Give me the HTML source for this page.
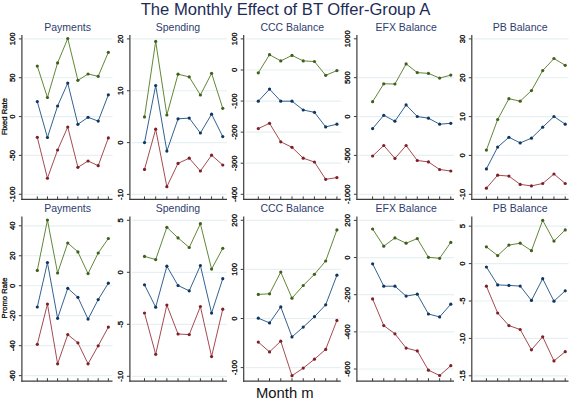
<!DOCTYPE html><html><head><meta charset="utf-8"><style>html,body{margin:0;padding:0;background:#fff;}svg{display:block;font-family:"Liberation Sans",sans-serif;}</style></head><body>
<svg width="572" height="400" viewBox="0 0 572 400">
<rect width="572" height="400" fill="#fff"/>
<text x="285.55" y="14.7" font-size="16.6" fill="#1e2b58" text-anchor="middle">The Monthly Effect of BT Offer-Group A</text>
<text transform="translate(7.2,116.6) rotate(-90)" font-size="7.65" fill="#111111" stroke="#111111" stroke-width="0.3" text-anchor="middle">Fixed Rate</text>
<text transform="translate(7.2,298.0) rotate(-90)" font-size="7.65" fill="#111111" stroke="#111111" stroke-width="0.3" text-anchor="middle">Promo Rate</text>
<text x="284.8" y="397.9" font-size="14.8" fill="#111111" text-anchor="middle">Month m</text>
<line x1="23.9" y1="38.9" x2="112.5" y2="38.9" stroke="#e6eff2" stroke-width="1.2"/>
<line x1="23.9" y1="77.74" x2="112.5" y2="77.74" stroke="#e6eff2" stroke-width="1.2"/>
<line x1="23.9" y1="116.58" x2="112.5" y2="116.58" stroke="#e6eff2" stroke-width="1.2"/>
<line x1="23.9" y1="155.42" x2="112.5" y2="155.42" stroke="#e6eff2" stroke-width="1.2"/>
<line x1="23.9" y1="194.26" x2="112.5" y2="194.26" stroke="#e6eff2" stroke-width="1.2"/>
<text x="67.6" y="30.6" font-size="10.5" fill="#2e3d6e" text-anchor="middle">Payments</text>
<line x1="21.9" y1="34.9" x2="21.9" y2="200" stroke="#3c3c3c" stroke-width="1.2"/>
<line x1="21.3" y1="199.4" x2="112.5" y2="199.4" stroke="#3c3c3c" stroke-width="1.2"/>
<line x1="18.9" y1="38.9" x2="21.9" y2="38.9" stroke="#3c3c3c" stroke-width="1"/>
<text transform="translate(14.9,38.9) rotate(-90)" font-size="7.7" fill="#000" stroke="#000" stroke-width="0.3" text-anchor="middle">100</text>
<line x1="18.9" y1="77.74" x2="21.9" y2="77.74" stroke="#3c3c3c" stroke-width="1"/>
<text transform="translate(14.9,77.74) rotate(-90)" font-size="7.7" fill="#000" stroke="#000" stroke-width="0.3" text-anchor="middle">50</text>
<line x1="18.9" y1="116.58" x2="21.9" y2="116.58" stroke="#3c3c3c" stroke-width="1"/>
<text transform="translate(14.9,116.58) rotate(-90)" font-size="7.7" fill="#000" stroke="#000" stroke-width="0.3" text-anchor="middle">0</text>
<line x1="18.9" y1="155.42" x2="21.9" y2="155.42" stroke="#3c3c3c" stroke-width="1"/>
<text transform="translate(14.9,155.42) rotate(-90)" font-size="7.7" fill="#000" stroke="#000" stroke-width="0.3" text-anchor="middle">-50</text>
<line x1="18.9" y1="194.26" x2="21.9" y2="194.26" stroke="#3c3c3c" stroke-width="1"/>
<text transform="translate(14.9,194.26) rotate(-90)" font-size="7.7" fill="#000" stroke="#000" stroke-width="0.3" text-anchor="middle">-100</text>
<line x1="37.3" y1="196.4" x2="37.3" y2="199.4" stroke="#3c3c3c" stroke-width="1"/>
<line x1="47.45" y1="196.4" x2="47.45" y2="199.4" stroke="#3c3c3c" stroke-width="1"/>
<line x1="57.6" y1="196.4" x2="57.6" y2="199.4" stroke="#3c3c3c" stroke-width="1"/>
<line x1="67.75" y1="196.4" x2="67.75" y2="199.4" stroke="#3c3c3c" stroke-width="1"/>
<line x1="77.9" y1="196.4" x2="77.9" y2="199.4" stroke="#3c3c3c" stroke-width="1"/>
<line x1="88.05" y1="196.4" x2="88.05" y2="199.4" stroke="#3c3c3c" stroke-width="1"/>
<line x1="98.2" y1="196.4" x2="98.2" y2="199.4" stroke="#3c3c3c" stroke-width="1"/>
<line x1="108.35" y1="196.4" x2="108.35" y2="199.4" stroke="#3c3c3c" stroke-width="1"/>
<polyline points="37.3,66.1 47.45,97.5 57.6,62.9 67.75,38.5 77.9,80.3 88.05,74 98.2,76.3 108.35,52.3" fill="none" stroke="#628838" stroke-width="1" stroke-linejoin="round"/>
<circle cx="37.3" cy="66.1" r="1.6" fill="#3f5f1c"/>
<circle cx="47.45" cy="97.5" r="1.6" fill="#3f5f1c"/>
<circle cx="57.6" cy="62.9" r="1.6" fill="#3f5f1c"/>
<circle cx="67.75" cy="38.5" r="1.6" fill="#3f5f1c"/>
<circle cx="77.9" cy="80.3" r="1.6" fill="#3f5f1c"/>
<circle cx="88.05" cy="74" r="1.6" fill="#3f5f1c"/>
<circle cx="98.2" cy="76.3" r="1.6" fill="#3f5f1c"/>
<circle cx="108.35" cy="52.3" r="1.6" fill="#3f5f1c"/>
<polyline points="37.3,101.6 47.45,137.5 57.6,106 67.75,83.1 77.9,124.3 88.05,117.3 98.2,121.1 108.35,94.8" fill="none" stroke="#33628f" stroke-width="1" stroke-linejoin="round"/>
<circle cx="37.3" cy="101.6" r="1.6" fill="#0f3560"/>
<circle cx="47.45" cy="137.5" r="1.6" fill="#0f3560"/>
<circle cx="57.6" cy="106" r="1.6" fill="#0f3560"/>
<circle cx="67.75" cy="83.1" r="1.6" fill="#0f3560"/>
<circle cx="77.9" cy="124.3" r="1.6" fill="#0f3560"/>
<circle cx="88.05" cy="117.3" r="1.6" fill="#0f3560"/>
<circle cx="98.2" cy="121.1" r="1.6" fill="#0f3560"/>
<circle cx="108.35" cy="94.8" r="1.6" fill="#0f3560"/>
<polyline points="37.3,137.3 47.45,178.25 57.6,150 67.75,127 77.9,167.3 88.05,161 98.2,165.7 108.35,137.9" fill="none" stroke="#a54b51" stroke-width="1" stroke-linejoin="round"/>
<circle cx="37.3" cy="137.3" r="1.6" fill="#7c1f27"/>
<circle cx="47.45" cy="178.25" r="1.6" fill="#7c1f27"/>
<circle cx="57.6" cy="150" r="1.6" fill="#7c1f27"/>
<circle cx="67.75" cy="127" r="1.6" fill="#7c1f27"/>
<circle cx="77.9" cy="167.3" r="1.6" fill="#7c1f27"/>
<circle cx="88.05" cy="161" r="1.6" fill="#7c1f27"/>
<circle cx="98.2" cy="165.7" r="1.6" fill="#7c1f27"/>
<circle cx="108.35" cy="137.9" r="1.6" fill="#7c1f27"/>
<line x1="131.9" y1="38.9" x2="227" y2="38.9" stroke="#e6eff2" stroke-width="1.2"/>
<line x1="131.9" y1="90.75" x2="227" y2="90.75" stroke="#e6eff2" stroke-width="1.2"/>
<line x1="131.9" y1="142.6" x2="227" y2="142.6" stroke="#e6eff2" stroke-width="1.2"/>
<line x1="131.9" y1="194.45" x2="227" y2="194.45" stroke="#e6eff2" stroke-width="1.2"/>
<text x="177.95" y="30.6" font-size="10.5" fill="#2e3d6e" text-anchor="middle">Spending</text>
<line x1="129.9" y1="34.9" x2="129.9" y2="200" stroke="#3c3c3c" stroke-width="1.2"/>
<line x1="129.3" y1="199.4" x2="227" y2="199.4" stroke="#3c3c3c" stroke-width="1.2"/>
<line x1="126.9" y1="38.9" x2="129.9" y2="38.9" stroke="#3c3c3c" stroke-width="1"/>
<text transform="translate(122.9,38.9) rotate(-90)" font-size="7.7" fill="#000" stroke="#000" stroke-width="0.3" text-anchor="middle">20</text>
<line x1="126.9" y1="90.75" x2="129.9" y2="90.75" stroke="#3c3c3c" stroke-width="1"/>
<text transform="translate(122.9,90.75) rotate(-90)" font-size="7.7" fill="#000" stroke="#000" stroke-width="0.3" text-anchor="middle">10</text>
<line x1="126.9" y1="142.6" x2="129.9" y2="142.6" stroke="#3c3c3c" stroke-width="1"/>
<text transform="translate(122.9,142.6) rotate(-90)" font-size="7.7" fill="#000" stroke="#000" stroke-width="0.3" text-anchor="middle">0</text>
<line x1="126.9" y1="194.45" x2="129.9" y2="194.45" stroke="#3c3c3c" stroke-width="1"/>
<text transform="translate(122.9,194.45) rotate(-90)" font-size="7.7" fill="#000" stroke="#000" stroke-width="0.3" text-anchor="middle">-10</text>
<line x1="144.5" y1="196.4" x2="144.5" y2="199.4" stroke="#3c3c3c" stroke-width="1"/>
<line x1="155.68" y1="196.4" x2="155.68" y2="199.4" stroke="#3c3c3c" stroke-width="1"/>
<line x1="166.86" y1="196.4" x2="166.86" y2="199.4" stroke="#3c3c3c" stroke-width="1"/>
<line x1="178.04" y1="196.4" x2="178.04" y2="199.4" stroke="#3c3c3c" stroke-width="1"/>
<line x1="189.22" y1="196.4" x2="189.22" y2="199.4" stroke="#3c3c3c" stroke-width="1"/>
<line x1="200.4" y1="196.4" x2="200.4" y2="199.4" stroke="#3c3c3c" stroke-width="1"/>
<line x1="211.58" y1="196.4" x2="211.58" y2="199.4" stroke="#3c3c3c" stroke-width="1"/>
<line x1="222.76" y1="196.4" x2="222.76" y2="199.4" stroke="#3c3c3c" stroke-width="1"/>
<polyline points="144.5,116.9 155.68,41.4 166.86,115 178.04,74.2 189.22,76.9 200.4,95 211.58,73.3 222.76,108.3" fill="none" stroke="#628838" stroke-width="1" stroke-linejoin="round"/>
<circle cx="144.5" cy="116.9" r="1.6" fill="#3f5f1c"/>
<circle cx="155.68" cy="41.4" r="1.6" fill="#3f5f1c"/>
<circle cx="166.86" cy="115" r="1.6" fill="#3f5f1c"/>
<circle cx="178.04" cy="74.2" r="1.6" fill="#3f5f1c"/>
<circle cx="189.22" cy="76.9" r="1.6" fill="#3f5f1c"/>
<circle cx="200.4" cy="95" r="1.6" fill="#3f5f1c"/>
<circle cx="211.58" cy="73.3" r="1.6" fill="#3f5f1c"/>
<circle cx="222.76" cy="108.3" r="1.6" fill="#3f5f1c"/>
<polyline points="144.5,142.6 155.68,85.5 166.86,151.1 178.04,118.8 189.22,118.1 200.4,133 211.58,114.2 222.76,136.6" fill="none" stroke="#33628f" stroke-width="1" stroke-linejoin="round"/>
<circle cx="144.5" cy="142.6" r="1.6" fill="#0f3560"/>
<circle cx="155.68" cy="85.5" r="1.6" fill="#0f3560"/>
<circle cx="166.86" cy="151.1" r="1.6" fill="#0f3560"/>
<circle cx="178.04" cy="118.8" r="1.6" fill="#0f3560"/>
<circle cx="189.22" cy="118.1" r="1.6" fill="#0f3560"/>
<circle cx="200.4" cy="133" r="1.6" fill="#0f3560"/>
<circle cx="211.58" cy="114.2" r="1.6" fill="#0f3560"/>
<circle cx="222.76" cy="136.6" r="1.6" fill="#0f3560"/>
<polyline points="144.5,169.4 155.68,129.2 166.86,186.7 178.04,163.4 189.22,158.2 200.4,171 211.58,155.2 222.76,165" fill="none" stroke="#a54b51" stroke-width="1" stroke-linejoin="round"/>
<circle cx="144.5" cy="169.4" r="1.6" fill="#7c1f27"/>
<circle cx="155.68" cy="129.2" r="1.6" fill="#7c1f27"/>
<circle cx="166.86" cy="186.7" r="1.6" fill="#7c1f27"/>
<circle cx="178.04" cy="163.4" r="1.6" fill="#7c1f27"/>
<circle cx="189.22" cy="158.2" r="1.6" fill="#7c1f27"/>
<circle cx="200.4" cy="171" r="1.6" fill="#7c1f27"/>
<circle cx="211.58" cy="155.2" r="1.6" fill="#7c1f27"/>
<circle cx="222.76" cy="165" r="1.6" fill="#7c1f27"/>
<line x1="245.7" y1="38.9" x2="340.8" y2="38.9" stroke="#e6eff2" stroke-width="1.2"/>
<line x1="245.7" y1="69.98" x2="340.8" y2="69.98" stroke="#e6eff2" stroke-width="1.2"/>
<line x1="245.7" y1="101.06" x2="340.8" y2="101.06" stroke="#e6eff2" stroke-width="1.2"/>
<line x1="245.7" y1="132.14" x2="340.8" y2="132.14" stroke="#e6eff2" stroke-width="1.2"/>
<line x1="245.7" y1="163.22" x2="340.8" y2="163.22" stroke="#e6eff2" stroke-width="1.2"/>
<line x1="245.7" y1="194.3" x2="340.8" y2="194.3" stroke="#e6eff2" stroke-width="1.2"/>
<text x="292.25" y="30.6" font-size="10.5" fill="#2e3d6e" text-anchor="middle">CCC Balance</text>
<line x1="243.7" y1="34.9" x2="243.7" y2="200" stroke="#3c3c3c" stroke-width="1.2"/>
<line x1="243.1" y1="199.4" x2="340.8" y2="199.4" stroke="#3c3c3c" stroke-width="1.2"/>
<line x1="240.7" y1="38.9" x2="243.7" y2="38.9" stroke="#3c3c3c" stroke-width="1"/>
<text transform="translate(236.7,38.9) rotate(-90)" font-size="7.7" fill="#000" stroke="#000" stroke-width="0.3" text-anchor="middle">100</text>
<line x1="240.7" y1="69.98" x2="243.7" y2="69.98" stroke="#3c3c3c" stroke-width="1"/>
<text transform="translate(236.7,69.98) rotate(-90)" font-size="7.7" fill="#000" stroke="#000" stroke-width="0.3" text-anchor="middle">0</text>
<line x1="240.7" y1="101.06" x2="243.7" y2="101.06" stroke="#3c3c3c" stroke-width="1"/>
<text transform="translate(236.7,101.06) rotate(-90)" font-size="7.7" fill="#000" stroke="#000" stroke-width="0.3" text-anchor="middle">-100</text>
<line x1="240.7" y1="132.14" x2="243.7" y2="132.14" stroke="#3c3c3c" stroke-width="1"/>
<text transform="translate(236.7,132.14) rotate(-90)" font-size="7.7" fill="#000" stroke="#000" stroke-width="0.3" text-anchor="middle">-200</text>
<line x1="240.7" y1="163.22" x2="243.7" y2="163.22" stroke="#3c3c3c" stroke-width="1"/>
<text transform="translate(236.7,163.22) rotate(-90)" font-size="7.7" fill="#000" stroke="#000" stroke-width="0.3" text-anchor="middle">-300</text>
<line x1="240.7" y1="194.3" x2="243.7" y2="194.3" stroke="#3c3c3c" stroke-width="1"/>
<text transform="translate(236.7,194.3) rotate(-90)" font-size="7.7" fill="#000" stroke="#000" stroke-width="0.3" text-anchor="middle">-400</text>
<line x1="258.3" y1="196.4" x2="258.3" y2="199.4" stroke="#3c3c3c" stroke-width="1"/>
<line x1="269.53" y1="196.4" x2="269.53" y2="199.4" stroke="#3c3c3c" stroke-width="1"/>
<line x1="280.76" y1="196.4" x2="280.76" y2="199.4" stroke="#3c3c3c" stroke-width="1"/>
<line x1="291.99" y1="196.4" x2="291.99" y2="199.4" stroke="#3c3c3c" stroke-width="1"/>
<line x1="303.22" y1="196.4" x2="303.22" y2="199.4" stroke="#3c3c3c" stroke-width="1"/>
<line x1="314.45" y1="196.4" x2="314.45" y2="199.4" stroke="#3c3c3c" stroke-width="1"/>
<line x1="325.68" y1="196.4" x2="325.68" y2="199.4" stroke="#3c3c3c" stroke-width="1"/>
<line x1="336.91" y1="196.4" x2="336.91" y2="199.4" stroke="#3c3c3c" stroke-width="1"/>
<polyline points="258.3,72.8 269.53,54.7 280.76,60.9 291.99,55.4 303.22,60.9 314.45,61.5 325.68,75.3 336.91,70.6" fill="none" stroke="#628838" stroke-width="1" stroke-linejoin="round"/>
<circle cx="258.3" cy="72.8" r="1.6" fill="#3f5f1c"/>
<circle cx="269.53" cy="54.7" r="1.6" fill="#3f5f1c"/>
<circle cx="280.76" cy="60.9" r="1.6" fill="#3f5f1c"/>
<circle cx="291.99" cy="55.4" r="1.6" fill="#3f5f1c"/>
<circle cx="303.22" cy="60.9" r="1.6" fill="#3f5f1c"/>
<circle cx="314.45" cy="61.5" r="1.6" fill="#3f5f1c"/>
<circle cx="325.68" cy="75.3" r="1.6" fill="#3f5f1c"/>
<circle cx="336.91" cy="70.6" r="1.6" fill="#3f5f1c"/>
<polyline points="258.3,101.2 269.53,89.1 280.76,101.2 291.99,101.2 303.22,110 314.45,112.3 325.68,126.9 336.91,124.2" fill="none" stroke="#33628f" stroke-width="1" stroke-linejoin="round"/>
<circle cx="258.3" cy="101.2" r="1.6" fill="#0f3560"/>
<circle cx="269.53" cy="89.1" r="1.6" fill="#0f3560"/>
<circle cx="280.76" cy="101.2" r="1.6" fill="#0f3560"/>
<circle cx="291.99" cy="101.2" r="1.6" fill="#0f3560"/>
<circle cx="303.22" cy="110" r="1.6" fill="#0f3560"/>
<circle cx="314.45" cy="112.3" r="1.6" fill="#0f3560"/>
<circle cx="325.68" cy="126.9" r="1.6" fill="#0f3560"/>
<circle cx="336.91" cy="124.2" r="1.6" fill="#0f3560"/>
<polyline points="258.3,128.6 269.53,123.3 280.76,141.8 291.99,147.3 303.22,158.2 314.45,162 325.68,179.3 336.91,177.6" fill="none" stroke="#a54b51" stroke-width="1" stroke-linejoin="round"/>
<circle cx="258.3" cy="128.6" r="1.6" fill="#7c1f27"/>
<circle cx="269.53" cy="123.3" r="1.6" fill="#7c1f27"/>
<circle cx="280.76" cy="141.8" r="1.6" fill="#7c1f27"/>
<circle cx="291.99" cy="147.3" r="1.6" fill="#7c1f27"/>
<circle cx="303.22" cy="158.2" r="1.6" fill="#7c1f27"/>
<circle cx="314.45" cy="162" r="1.6" fill="#7c1f27"/>
<circle cx="325.68" cy="179.3" r="1.6" fill="#7c1f27"/>
<circle cx="336.91" cy="177.6" r="1.6" fill="#7c1f27"/>
<line x1="358.9" y1="77.67" x2="454" y2="77.67" stroke="#e6eff2" stroke-width="1.2"/>
<line x1="358.9" y1="116.54" x2="454" y2="116.54" stroke="#e6eff2" stroke-width="1.2"/>
<line x1="358.9" y1="155.41" x2="454" y2="155.41" stroke="#e6eff2" stroke-width="1.2"/>
<line x1="358.9" y1="194.28" x2="454" y2="194.28" stroke="#e6eff2" stroke-width="1.2"/>
<text x="406.15" y="30.6" font-size="10.5" fill="#2e3d6e" text-anchor="middle">EFX Balance</text>
<line x1="356.9" y1="34.9" x2="356.9" y2="200" stroke="#3c3c3c" stroke-width="1.2"/>
<line x1="356.3" y1="199.4" x2="454" y2="199.4" stroke="#3c3c3c" stroke-width="1.2"/>
<line x1="353.9" y1="38.8" x2="356.9" y2="38.8" stroke="#3c3c3c" stroke-width="1"/>
<text transform="translate(349.9,38.8) rotate(-90)" font-size="7.7" fill="#000" stroke="#000" stroke-width="0.3" text-anchor="middle">1000</text>
<line x1="353.9" y1="77.67" x2="356.9" y2="77.67" stroke="#3c3c3c" stroke-width="1"/>
<text transform="translate(349.9,77.67) rotate(-90)" font-size="7.7" fill="#000" stroke="#000" stroke-width="0.3" text-anchor="middle">500</text>
<line x1="353.9" y1="116.54" x2="356.9" y2="116.54" stroke="#3c3c3c" stroke-width="1"/>
<text transform="translate(349.9,116.54) rotate(-90)" font-size="7.7" fill="#000" stroke="#000" stroke-width="0.3" text-anchor="middle">0</text>
<line x1="353.9" y1="155.41" x2="356.9" y2="155.41" stroke="#3c3c3c" stroke-width="1"/>
<text transform="translate(349.9,155.41) rotate(-90)" font-size="7.7" fill="#000" stroke="#000" stroke-width="0.3" text-anchor="middle">-500</text>
<line x1="353.9" y1="194.28" x2="356.9" y2="194.28" stroke="#3c3c3c" stroke-width="1"/>
<text transform="translate(349.9,194.28) rotate(-90)" font-size="7.7" fill="#000" stroke="#000" stroke-width="0.3" text-anchor="middle">-1000</text>
<line x1="372.6" y1="196.4" x2="372.6" y2="199.4" stroke="#3c3c3c" stroke-width="1"/>
<line x1="383.77" y1="196.4" x2="383.77" y2="199.4" stroke="#3c3c3c" stroke-width="1"/>
<line x1="394.94" y1="196.4" x2="394.94" y2="199.4" stroke="#3c3c3c" stroke-width="1"/>
<line x1="406.11" y1="196.4" x2="406.11" y2="199.4" stroke="#3c3c3c" stroke-width="1"/>
<line x1="417.28" y1="196.4" x2="417.28" y2="199.4" stroke="#3c3c3c" stroke-width="1"/>
<line x1="428.45" y1="196.4" x2="428.45" y2="199.4" stroke="#3c3c3c" stroke-width="1"/>
<line x1="439.62" y1="196.4" x2="439.62" y2="199.4" stroke="#3c3c3c" stroke-width="1"/>
<line x1="450.79" y1="196.4" x2="450.79" y2="199.4" stroke="#3c3c3c" stroke-width="1"/>
<polyline points="372.6,101.7 383.77,83.8 394.94,84 406.11,63.9 417.28,72.6 428.45,73.4 439.62,78.1 450.79,75.1" fill="none" stroke="#628838" stroke-width="1" stroke-linejoin="round"/>
<circle cx="372.6" cy="101.7" r="1.6" fill="#3f5f1c"/>
<circle cx="383.77" cy="83.8" r="1.6" fill="#3f5f1c"/>
<circle cx="394.94" cy="84" r="1.6" fill="#3f5f1c"/>
<circle cx="406.11" cy="63.9" r="1.6" fill="#3f5f1c"/>
<circle cx="417.28" cy="72.6" r="1.6" fill="#3f5f1c"/>
<circle cx="428.45" cy="73.4" r="1.6" fill="#3f5f1c"/>
<circle cx="439.62" cy="78.1" r="1.6" fill="#3f5f1c"/>
<circle cx="450.79" cy="75.1" r="1.6" fill="#3f5f1c"/>
<polyline points="372.6,128.6 383.77,115.3 394.94,121.2 406.11,104.9 417.28,116.5 428.45,118.2 439.62,124.2 450.79,123.3" fill="none" stroke="#33628f" stroke-width="1" stroke-linejoin="round"/>
<circle cx="372.6" cy="128.6" r="1.6" fill="#0f3560"/>
<circle cx="383.77" cy="115.3" r="1.6" fill="#0f3560"/>
<circle cx="394.94" cy="121.2" r="1.6" fill="#0f3560"/>
<circle cx="406.11" cy="104.9" r="1.6" fill="#0f3560"/>
<circle cx="417.28" cy="116.5" r="1.6" fill="#0f3560"/>
<circle cx="428.45" cy="118.2" r="1.6" fill="#0f3560"/>
<circle cx="439.62" cy="124.2" r="1.6" fill="#0f3560"/>
<circle cx="450.79" cy="123.3" r="1.6" fill="#0f3560"/>
<polyline points="372.6,156 383.77,145.5 394.94,158.4 406.11,145.5 417.28,160.5 428.45,161.9 439.62,169.5 450.79,171" fill="none" stroke="#a54b51" stroke-width="1" stroke-linejoin="round"/>
<circle cx="372.6" cy="156" r="1.6" fill="#7c1f27"/>
<circle cx="383.77" cy="145.5" r="1.6" fill="#7c1f27"/>
<circle cx="394.94" cy="158.4" r="1.6" fill="#7c1f27"/>
<circle cx="406.11" cy="145.5" r="1.6" fill="#7c1f27"/>
<circle cx="417.28" cy="160.5" r="1.6" fill="#7c1f27"/>
<circle cx="428.45" cy="161.9" r="1.6" fill="#7c1f27"/>
<circle cx="439.62" cy="169.5" r="1.6" fill="#7c1f27"/>
<circle cx="450.79" cy="171" r="1.6" fill="#7c1f27"/>
<line x1="473.8" y1="38.9" x2="568.5" y2="38.9" stroke="#e6eff2" stroke-width="1.2"/>
<line x1="473.8" y1="77.75" x2="568.5" y2="77.75" stroke="#e6eff2" stroke-width="1.2"/>
<line x1="473.8" y1="116.6" x2="568.5" y2="116.6" stroke="#e6eff2" stroke-width="1.2"/>
<line x1="473.8" y1="155.45" x2="568.5" y2="155.45" stroke="#e6eff2" stroke-width="1.2"/>
<line x1="473.8" y1="194.3" x2="568.5" y2="194.3" stroke="#e6eff2" stroke-width="1.2"/>
<text x="520.15" y="30.6" font-size="10.5" fill="#2e3d6e" text-anchor="middle">PB Balance</text>
<line x1="471.8" y1="34.9" x2="471.8" y2="200" stroke="#3c3c3c" stroke-width="1.2"/>
<line x1="471.2" y1="199.4" x2="568.5" y2="199.4" stroke="#3c3c3c" stroke-width="1.2"/>
<line x1="468.8" y1="38.9" x2="471.8" y2="38.9" stroke="#3c3c3c" stroke-width="1"/>
<text transform="translate(464.8,38.9) rotate(-90)" font-size="7.7" fill="#000" stroke="#000" stroke-width="0.3" text-anchor="middle">30</text>
<line x1="468.8" y1="77.75" x2="471.8" y2="77.75" stroke="#3c3c3c" stroke-width="1"/>
<text transform="translate(464.8,77.75) rotate(-90)" font-size="7.7" fill="#000" stroke="#000" stroke-width="0.3" text-anchor="middle">20</text>
<line x1="468.8" y1="116.6" x2="471.8" y2="116.6" stroke="#3c3c3c" stroke-width="1"/>
<text transform="translate(464.8,116.6) rotate(-90)" font-size="7.7" fill="#000" stroke="#000" stroke-width="0.3" text-anchor="middle">10</text>
<line x1="468.8" y1="155.45" x2="471.8" y2="155.45" stroke="#3c3c3c" stroke-width="1"/>
<text transform="translate(464.8,155.45) rotate(-90)" font-size="7.7" fill="#000" stroke="#000" stroke-width="0.3" text-anchor="middle">0</text>
<line x1="468.8" y1="194.3" x2="471.8" y2="194.3" stroke="#3c3c3c" stroke-width="1"/>
<text transform="translate(464.8,194.3) rotate(-90)" font-size="7.7" fill="#000" stroke="#000" stroke-width="0.3" text-anchor="middle">-10</text>
<line x1="486.4" y1="196.4" x2="486.4" y2="199.4" stroke="#3c3c3c" stroke-width="1"/>
<line x1="497.66" y1="196.4" x2="497.66" y2="199.4" stroke="#3c3c3c" stroke-width="1"/>
<line x1="508.92" y1="196.4" x2="508.92" y2="199.4" stroke="#3c3c3c" stroke-width="1"/>
<line x1="520.18" y1="196.4" x2="520.18" y2="199.4" stroke="#3c3c3c" stroke-width="1"/>
<line x1="531.44" y1="196.4" x2="531.44" y2="199.4" stroke="#3c3c3c" stroke-width="1"/>
<line x1="542.7" y1="196.4" x2="542.7" y2="199.4" stroke="#3c3c3c" stroke-width="1"/>
<line x1="553.96" y1="196.4" x2="553.96" y2="199.4" stroke="#3c3c3c" stroke-width="1"/>
<line x1="565.22" y1="196.4" x2="565.22" y2="199.4" stroke="#3c3c3c" stroke-width="1"/>
<polyline points="486.4,150.1 497.66,119.5 508.92,98.7 520.18,101.2 531.44,90.6 542.7,70.6 553.96,58.5 565.22,65.3" fill="none" stroke="#628838" stroke-width="1" stroke-linejoin="round"/>
<circle cx="486.4" cy="150.1" r="1.6" fill="#3f5f1c"/>
<circle cx="497.66" cy="119.5" r="1.6" fill="#3f5f1c"/>
<circle cx="508.92" cy="98.7" r="1.6" fill="#3f5f1c"/>
<circle cx="520.18" cy="101.2" r="1.6" fill="#3f5f1c"/>
<circle cx="531.44" cy="90.6" r="1.6" fill="#3f5f1c"/>
<circle cx="542.7" cy="70.6" r="1.6" fill="#3f5f1c"/>
<circle cx="553.96" cy="58.5" r="1.6" fill="#3f5f1c"/>
<circle cx="565.22" cy="65.3" r="1.6" fill="#3f5f1c"/>
<polyline points="486.4,168.9 497.66,147.1 508.92,137.3 520.18,142.9 531.44,138.2 542.7,127.2 553.96,116.5 565.22,124.2" fill="none" stroke="#33628f" stroke-width="1" stroke-linejoin="round"/>
<circle cx="486.4" cy="168.9" r="1.6" fill="#0f3560"/>
<circle cx="497.66" cy="147.1" r="1.6" fill="#0f3560"/>
<circle cx="508.92" cy="137.3" r="1.6" fill="#0f3560"/>
<circle cx="520.18" cy="142.9" r="1.6" fill="#0f3560"/>
<circle cx="531.44" cy="138.2" r="1.6" fill="#0f3560"/>
<circle cx="542.7" cy="127.2" r="1.6" fill="#0f3560"/>
<circle cx="553.96" cy="116.5" r="1.6" fill="#0f3560"/>
<circle cx="565.22" cy="124.2" r="1.6" fill="#0f3560"/>
<polyline points="486.4,188.2 497.66,175.2 508.92,176.1 520.18,184.4 531.44,185.9 542.7,183.5 553.96,174 565.22,183.5" fill="none" stroke="#a54b51" stroke-width="1" stroke-linejoin="round"/>
<circle cx="486.4" cy="188.2" r="1.6" fill="#7c1f27"/>
<circle cx="497.66" cy="175.2" r="1.6" fill="#7c1f27"/>
<circle cx="508.92" cy="176.1" r="1.6" fill="#7c1f27"/>
<circle cx="520.18" cy="184.4" r="1.6" fill="#7c1f27"/>
<circle cx="531.44" cy="185.9" r="1.6" fill="#7c1f27"/>
<circle cx="542.7" cy="183.5" r="1.6" fill="#7c1f27"/>
<circle cx="553.96" cy="174" r="1.6" fill="#7c1f27"/>
<circle cx="565.22" cy="183.5" r="1.6" fill="#7c1f27"/>
<line x1="23.9" y1="225.8" x2="112.5" y2="225.8" stroke="#e6eff2" stroke-width="1.2"/>
<line x1="23.9" y1="255.77" x2="112.5" y2="255.77" stroke="#e6eff2" stroke-width="1.2"/>
<line x1="23.9" y1="285.74" x2="112.5" y2="285.74" stroke="#e6eff2" stroke-width="1.2"/>
<line x1="23.9" y1="315.71" x2="112.5" y2="315.71" stroke="#e6eff2" stroke-width="1.2"/>
<line x1="23.9" y1="345.68" x2="112.5" y2="345.68" stroke="#e6eff2" stroke-width="1.2"/>
<line x1="23.9" y1="375.65" x2="112.5" y2="375.65" stroke="#e6eff2" stroke-width="1.2"/>
<text x="67.6" y="211.8" font-size="10.5" fill="#2e3d6e" text-anchor="middle">Payments</text>
<line x1="21.9" y1="216.5" x2="21.9" y2="381.8" stroke="#3c3c3c" stroke-width="1.2"/>
<line x1="21.3" y1="381.2" x2="112.5" y2="381.2" stroke="#3c3c3c" stroke-width="1.2"/>
<line x1="18.9" y1="225.8" x2="21.9" y2="225.8" stroke="#3c3c3c" stroke-width="1"/>
<text transform="translate(14.9,225.8) rotate(-90)" font-size="7.7" fill="#000" stroke="#000" stroke-width="0.3" text-anchor="middle">40</text>
<line x1="18.9" y1="255.77" x2="21.9" y2="255.77" stroke="#3c3c3c" stroke-width="1"/>
<text transform="translate(14.9,255.77) rotate(-90)" font-size="7.7" fill="#000" stroke="#000" stroke-width="0.3" text-anchor="middle">20</text>
<line x1="18.9" y1="285.74" x2="21.9" y2="285.74" stroke="#3c3c3c" stroke-width="1"/>
<text transform="translate(14.9,285.74) rotate(-90)" font-size="7.7" fill="#000" stroke="#000" stroke-width="0.3" text-anchor="middle">0</text>
<line x1="18.9" y1="315.71" x2="21.9" y2="315.71" stroke="#3c3c3c" stroke-width="1"/>
<text transform="translate(14.9,315.71) rotate(-90)" font-size="7.7" fill="#000" stroke="#000" stroke-width="0.3" text-anchor="middle">-20</text>
<line x1="18.9" y1="345.68" x2="21.9" y2="345.68" stroke="#3c3c3c" stroke-width="1"/>
<text transform="translate(14.9,345.68) rotate(-90)" font-size="7.7" fill="#000" stroke="#000" stroke-width="0.3" text-anchor="middle">-40</text>
<line x1="18.9" y1="375.65" x2="21.9" y2="375.65" stroke="#3c3c3c" stroke-width="1"/>
<text transform="translate(14.9,375.65) rotate(-90)" font-size="7.7" fill="#000" stroke="#000" stroke-width="0.3" text-anchor="middle">-60</text>
<line x1="37.3" y1="378.2" x2="37.3" y2="381.2" stroke="#3c3c3c" stroke-width="1"/>
<line x1="47.45" y1="378.2" x2="47.45" y2="381.2" stroke="#3c3c3c" stroke-width="1"/>
<line x1="57.6" y1="378.2" x2="57.6" y2="381.2" stroke="#3c3c3c" stroke-width="1"/>
<line x1="67.75" y1="378.2" x2="67.75" y2="381.2" stroke="#3c3c3c" stroke-width="1"/>
<line x1="77.9" y1="378.2" x2="77.9" y2="381.2" stroke="#3c3c3c" stroke-width="1"/>
<line x1="88.05" y1="378.2" x2="88.05" y2="381.2" stroke="#3c3c3c" stroke-width="1"/>
<line x1="98.2" y1="378.2" x2="98.2" y2="381.2" stroke="#3c3c3c" stroke-width="1"/>
<line x1="108.35" y1="378.2" x2="108.35" y2="381.2" stroke="#3c3c3c" stroke-width="1"/>
<polyline points="37.3,270.4 47.45,220.1 57.6,273 67.75,243 77.9,251.9 88.05,273.6 98.2,253 108.35,238.5" fill="none" stroke="#628838" stroke-width="1" stroke-linejoin="round"/>
<circle cx="37.3" cy="270.4" r="1.6" fill="#3f5f1c"/>
<circle cx="47.45" cy="220.1" r="1.6" fill="#3f5f1c"/>
<circle cx="57.6" cy="273" r="1.6" fill="#3f5f1c"/>
<circle cx="67.75" cy="243" r="1.6" fill="#3f5f1c"/>
<circle cx="77.9" cy="251.9" r="1.6" fill="#3f5f1c"/>
<circle cx="88.05" cy="273.6" r="1.6" fill="#3f5f1c"/>
<circle cx="98.2" cy="253" r="1.6" fill="#3f5f1c"/>
<circle cx="108.35" cy="238.5" r="1.6" fill="#3f5f1c"/>
<polyline points="37.3,307 47.45,262.6 57.6,318.3 67.75,288.3 77.9,297.3 88.05,319.1 98.2,299.6 108.35,283.2" fill="none" stroke="#33628f" stroke-width="1" stroke-linejoin="round"/>
<circle cx="37.3" cy="307" r="1.6" fill="#0f3560"/>
<circle cx="47.45" cy="262.6" r="1.6" fill="#0f3560"/>
<circle cx="57.6" cy="318.3" r="1.6" fill="#0f3560"/>
<circle cx="67.75" cy="288.3" r="1.6" fill="#0f3560"/>
<circle cx="77.9" cy="297.3" r="1.6" fill="#0f3560"/>
<circle cx="88.05" cy="319.1" r="1.6" fill="#0f3560"/>
<circle cx="98.2" cy="299.6" r="1.6" fill="#0f3560"/>
<circle cx="108.35" cy="283.2" r="1.6" fill="#0f3560"/>
<polyline points="37.3,344.3 47.45,304.1 57.6,363.8 67.75,334.6 77.9,342.8 88.05,363.8 98.2,345.8 108.35,327.1" fill="none" stroke="#a54b51" stroke-width="1" stroke-linejoin="round"/>
<circle cx="37.3" cy="344.3" r="1.6" fill="#7c1f27"/>
<circle cx="47.45" cy="304.1" r="1.6" fill="#7c1f27"/>
<circle cx="57.6" cy="363.8" r="1.6" fill="#7c1f27"/>
<circle cx="67.75" cy="334.6" r="1.6" fill="#7c1f27"/>
<circle cx="77.9" cy="342.8" r="1.6" fill="#7c1f27"/>
<circle cx="88.05" cy="363.8" r="1.6" fill="#7c1f27"/>
<circle cx="98.2" cy="345.8" r="1.6" fill="#7c1f27"/>
<circle cx="108.35" cy="327.1" r="1.6" fill="#7c1f27"/>
<line x1="131.9" y1="220.3" x2="227" y2="220.3" stroke="#e6eff2" stroke-width="1.2"/>
<line x1="131.9" y1="272.3" x2="227" y2="272.3" stroke="#e6eff2" stroke-width="1.2"/>
<line x1="131.9" y1="324.3" x2="227" y2="324.3" stroke="#e6eff2" stroke-width="1.2"/>
<line x1="131.9" y1="376.3" x2="227" y2="376.3" stroke="#e6eff2" stroke-width="1.2"/>
<text x="177.95" y="211.8" font-size="10.5" fill="#2e3d6e" text-anchor="middle">Spending</text>
<line x1="129.9" y1="216.5" x2="129.9" y2="381.8" stroke="#3c3c3c" stroke-width="1.2"/>
<line x1="129.3" y1="381.2" x2="227" y2="381.2" stroke="#3c3c3c" stroke-width="1.2"/>
<line x1="126.9" y1="220.3" x2="129.9" y2="220.3" stroke="#3c3c3c" stroke-width="1"/>
<text transform="translate(122.9,220.3) rotate(-90)" font-size="7.7" fill="#000" stroke="#000" stroke-width="0.3" text-anchor="middle">5</text>
<line x1="126.9" y1="272.3" x2="129.9" y2="272.3" stroke="#3c3c3c" stroke-width="1"/>
<text transform="translate(122.9,272.3) rotate(-90)" font-size="7.7" fill="#000" stroke="#000" stroke-width="0.3" text-anchor="middle">0</text>
<line x1="126.9" y1="324.3" x2="129.9" y2="324.3" stroke="#3c3c3c" stroke-width="1"/>
<text transform="translate(122.9,324.3) rotate(-90)" font-size="7.7" fill="#000" stroke="#000" stroke-width="0.3" text-anchor="middle">-5</text>
<line x1="126.9" y1="376.3" x2="129.9" y2="376.3" stroke="#3c3c3c" stroke-width="1"/>
<text transform="translate(122.9,376.3) rotate(-90)" font-size="7.7" fill="#000" stroke="#000" stroke-width="0.3" text-anchor="middle">-10</text>
<line x1="144.5" y1="378.2" x2="144.5" y2="381.2" stroke="#3c3c3c" stroke-width="1"/>
<line x1="155.68" y1="378.2" x2="155.68" y2="381.2" stroke="#3c3c3c" stroke-width="1"/>
<line x1="166.86" y1="378.2" x2="166.86" y2="381.2" stroke="#3c3c3c" stroke-width="1"/>
<line x1="178.04" y1="378.2" x2="178.04" y2="381.2" stroke="#3c3c3c" stroke-width="1"/>
<line x1="189.22" y1="378.2" x2="189.22" y2="381.2" stroke="#3c3c3c" stroke-width="1"/>
<line x1="200.4" y1="378.2" x2="200.4" y2="381.2" stroke="#3c3c3c" stroke-width="1"/>
<line x1="211.58" y1="378.2" x2="211.58" y2="381.2" stroke="#3c3c3c" stroke-width="1"/>
<line x1="222.76" y1="378.2" x2="222.76" y2="381.2" stroke="#3c3c3c" stroke-width="1"/>
<polyline points="144.5,256.4 155.68,259.6 166.86,227.3 178.04,237.9 189.22,247.5 200.4,223.7 211.58,269.1 222.76,248.3" fill="none" stroke="#628838" stroke-width="1" stroke-linejoin="round"/>
<circle cx="144.5" cy="256.4" r="1.6" fill="#3f5f1c"/>
<circle cx="155.68" cy="259.6" r="1.6" fill="#3f5f1c"/>
<circle cx="166.86" cy="227.3" r="1.6" fill="#3f5f1c"/>
<circle cx="178.04" cy="237.9" r="1.6" fill="#3f5f1c"/>
<circle cx="189.22" cy="247.5" r="1.6" fill="#3f5f1c"/>
<circle cx="200.4" cy="223.7" r="1.6" fill="#3f5f1c"/>
<circle cx="211.58" cy="269.1" r="1.6" fill="#3f5f1c"/>
<circle cx="222.76" cy="248.3" r="1.6" fill="#3f5f1c"/>
<polyline points="144.5,284.8 155.68,307.2 166.86,266.2 178.04,285.5 189.22,290.8 200.4,265.5 211.58,313.1 222.76,278.7" fill="none" stroke="#33628f" stroke-width="1" stroke-linejoin="round"/>
<circle cx="144.5" cy="284.8" r="1.6" fill="#0f3560"/>
<circle cx="155.68" cy="307.2" r="1.6" fill="#0f3560"/>
<circle cx="166.86" cy="266.2" r="1.6" fill="#0f3560"/>
<circle cx="178.04" cy="285.5" r="1.6" fill="#0f3560"/>
<circle cx="189.22" cy="290.8" r="1.6" fill="#0f3560"/>
<circle cx="200.4" cy="265.5" r="1.6" fill="#0f3560"/>
<circle cx="211.58" cy="313.1" r="1.6" fill="#0f3560"/>
<circle cx="222.76" cy="278.7" r="1.6" fill="#0f3560"/>
<polyline points="144.5,313 155.68,354.3 166.86,305 178.04,334 189.22,334.6 200.4,306.5 211.58,356.6 222.76,309.2" fill="none" stroke="#a54b51" stroke-width="1" stroke-linejoin="round"/>
<circle cx="144.5" cy="313" r="1.6" fill="#7c1f27"/>
<circle cx="155.68" cy="354.3" r="1.6" fill="#7c1f27"/>
<circle cx="166.86" cy="305" r="1.6" fill="#7c1f27"/>
<circle cx="178.04" cy="334" r="1.6" fill="#7c1f27"/>
<circle cx="189.22" cy="334.6" r="1.6" fill="#7c1f27"/>
<circle cx="200.4" cy="306.5" r="1.6" fill="#7c1f27"/>
<circle cx="211.58" cy="356.6" r="1.6" fill="#7c1f27"/>
<circle cx="222.76" cy="309.2" r="1.6" fill="#7c1f27"/>
<line x1="245.7" y1="220.3" x2="340.8" y2="220.3" stroke="#e6eff2" stroke-width="1.2"/>
<line x1="245.7" y1="269.4" x2="340.8" y2="269.4" stroke="#e6eff2" stroke-width="1.2"/>
<line x1="245.7" y1="318.5" x2="340.8" y2="318.5" stroke="#e6eff2" stroke-width="1.2"/>
<line x1="245.7" y1="367.6" x2="340.8" y2="367.6" stroke="#e6eff2" stroke-width="1.2"/>
<text x="292.25" y="211.8" font-size="10.5" fill="#2e3d6e" text-anchor="middle">CCC Balance</text>
<line x1="243.7" y1="216.5" x2="243.7" y2="381.8" stroke="#3c3c3c" stroke-width="1.2"/>
<line x1="243.1" y1="381.2" x2="340.8" y2="381.2" stroke="#3c3c3c" stroke-width="1.2"/>
<line x1="240.7" y1="220.3" x2="243.7" y2="220.3" stroke="#3c3c3c" stroke-width="1"/>
<text transform="translate(236.7,220.3) rotate(-90)" font-size="7.7" fill="#000" stroke="#000" stroke-width="0.3" text-anchor="middle">200</text>
<line x1="240.7" y1="269.4" x2="243.7" y2="269.4" stroke="#3c3c3c" stroke-width="1"/>
<text transform="translate(236.7,269.4) rotate(-90)" font-size="7.7" fill="#000" stroke="#000" stroke-width="0.3" text-anchor="middle">100</text>
<line x1="240.7" y1="318.5" x2="243.7" y2="318.5" stroke="#3c3c3c" stroke-width="1"/>
<text transform="translate(236.7,318.5) rotate(-90)" font-size="7.7" fill="#000" stroke="#000" stroke-width="0.3" text-anchor="middle">0</text>
<line x1="240.7" y1="367.6" x2="243.7" y2="367.6" stroke="#3c3c3c" stroke-width="1"/>
<text transform="translate(236.7,367.6) rotate(-90)" font-size="7.7" fill="#000" stroke="#000" stroke-width="0.3" text-anchor="middle">-100</text>
<line x1="258.3" y1="378.2" x2="258.3" y2="381.2" stroke="#3c3c3c" stroke-width="1"/>
<line x1="269.53" y1="378.2" x2="269.53" y2="381.2" stroke="#3c3c3c" stroke-width="1"/>
<line x1="280.76" y1="378.2" x2="280.76" y2="381.2" stroke="#3c3c3c" stroke-width="1"/>
<line x1="291.99" y1="378.2" x2="291.99" y2="381.2" stroke="#3c3c3c" stroke-width="1"/>
<line x1="303.22" y1="378.2" x2="303.22" y2="381.2" stroke="#3c3c3c" stroke-width="1"/>
<line x1="314.45" y1="378.2" x2="314.45" y2="381.2" stroke="#3c3c3c" stroke-width="1"/>
<line x1="325.68" y1="378.2" x2="325.68" y2="381.2" stroke="#3c3c3c" stroke-width="1"/>
<line x1="336.91" y1="378.2" x2="336.91" y2="381.2" stroke="#3c3c3c" stroke-width="1"/>
<polyline points="258.3,294.4 269.53,293.8 280.76,272.1 291.99,298.2 303.22,285.5 314.45,274.3 325.68,261 336.91,229.9" fill="none" stroke="#628838" stroke-width="1" stroke-linejoin="round"/>
<circle cx="258.3" cy="294.4" r="1.6" fill="#3f5f1c"/>
<circle cx="269.53" cy="293.8" r="1.6" fill="#3f5f1c"/>
<circle cx="280.76" cy="272.1" r="1.6" fill="#3f5f1c"/>
<circle cx="291.99" cy="298.2" r="1.6" fill="#3f5f1c"/>
<circle cx="303.22" cy="285.5" r="1.6" fill="#3f5f1c"/>
<circle cx="314.45" cy="274.3" r="1.6" fill="#3f5f1c"/>
<circle cx="325.68" cy="261" r="1.6" fill="#3f5f1c"/>
<circle cx="336.91" cy="229.9" r="1.6" fill="#3f5f1c"/>
<polyline points="258.3,318.2 269.53,322.9 280.76,306.9 291.99,336.9 303.22,327.1 314.45,316.7 325.68,304.8 336.91,275.2" fill="none" stroke="#33628f" stroke-width="1" stroke-linejoin="round"/>
<circle cx="258.3" cy="318.2" r="1.6" fill="#0f3560"/>
<circle cx="269.53" cy="322.9" r="1.6" fill="#0f3560"/>
<circle cx="280.76" cy="306.9" r="1.6" fill="#0f3560"/>
<circle cx="291.99" cy="336.9" r="1.6" fill="#0f3560"/>
<circle cx="303.22" cy="327.1" r="1.6" fill="#0f3560"/>
<circle cx="314.45" cy="316.7" r="1.6" fill="#0f3560"/>
<circle cx="325.68" cy="304.8" r="1.6" fill="#0f3560"/>
<circle cx="336.91" cy="275.2" r="1.6" fill="#0f3560"/>
<polyline points="258.3,342.1 269.53,351.9 280.76,341.2 291.99,375.7 303.22,368.1 314.45,359.2 325.68,349.4 336.91,320.4" fill="none" stroke="#a54b51" stroke-width="1" stroke-linejoin="round"/>
<circle cx="258.3" cy="342.1" r="1.6" fill="#7c1f27"/>
<circle cx="269.53" cy="351.9" r="1.6" fill="#7c1f27"/>
<circle cx="280.76" cy="341.2" r="1.6" fill="#7c1f27"/>
<circle cx="291.99" cy="375.7" r="1.6" fill="#7c1f27"/>
<circle cx="303.22" cy="368.1" r="1.6" fill="#7c1f27"/>
<circle cx="314.45" cy="359.2" r="1.6" fill="#7c1f27"/>
<circle cx="325.68" cy="349.4" r="1.6" fill="#7c1f27"/>
<circle cx="336.91" cy="320.4" r="1.6" fill="#7c1f27"/>
<line x1="358.9" y1="220.4" x2="454" y2="220.4" stroke="#e6eff2" stroke-width="1.2"/>
<line x1="358.9" y1="257.55" x2="454" y2="257.55" stroke="#e6eff2" stroke-width="1.2"/>
<line x1="358.9" y1="294.7" x2="454" y2="294.7" stroke="#e6eff2" stroke-width="1.2"/>
<line x1="358.9" y1="331.85" x2="454" y2="331.85" stroke="#e6eff2" stroke-width="1.2"/>
<line x1="358.9" y1="369" x2="454" y2="369" stroke="#e6eff2" stroke-width="1.2"/>
<text x="406.15" y="211.8" font-size="10.5" fill="#2e3d6e" text-anchor="middle">EFX Balance</text>
<line x1="356.9" y1="216.5" x2="356.9" y2="381.8" stroke="#3c3c3c" stroke-width="1.2"/>
<line x1="356.3" y1="381.2" x2="454" y2="381.2" stroke="#3c3c3c" stroke-width="1.2"/>
<line x1="353.9" y1="220.4" x2="356.9" y2="220.4" stroke="#3c3c3c" stroke-width="1"/>
<text transform="translate(349.9,220.4) rotate(-90)" font-size="7.7" fill="#000" stroke="#000" stroke-width="0.3" text-anchor="middle">200</text>
<line x1="353.9" y1="257.55" x2="356.9" y2="257.55" stroke="#3c3c3c" stroke-width="1"/>
<text transform="translate(349.9,257.55) rotate(-90)" font-size="7.7" fill="#000" stroke="#000" stroke-width="0.3" text-anchor="middle">0</text>
<line x1="353.9" y1="294.7" x2="356.9" y2="294.7" stroke="#3c3c3c" stroke-width="1"/>
<text transform="translate(349.9,294.7) rotate(-90)" font-size="7.7" fill="#000" stroke="#000" stroke-width="0.3" text-anchor="middle">-200</text>
<line x1="353.9" y1="331.85" x2="356.9" y2="331.85" stroke="#3c3c3c" stroke-width="1"/>
<text transform="translate(349.9,331.85) rotate(-90)" font-size="7.7" fill="#000" stroke="#000" stroke-width="0.3" text-anchor="middle">-400</text>
<line x1="353.9" y1="369" x2="356.9" y2="369" stroke="#3c3c3c" stroke-width="1"/>
<text transform="translate(349.9,369) rotate(-90)" font-size="7.7" fill="#000" stroke="#000" stroke-width="0.3" text-anchor="middle">-600</text>
<line x1="372.6" y1="378.2" x2="372.6" y2="381.2" stroke="#3c3c3c" stroke-width="1"/>
<line x1="383.77" y1="378.2" x2="383.77" y2="381.2" stroke="#3c3c3c" stroke-width="1"/>
<line x1="394.94" y1="378.2" x2="394.94" y2="381.2" stroke="#3c3c3c" stroke-width="1"/>
<line x1="406.11" y1="378.2" x2="406.11" y2="381.2" stroke="#3c3c3c" stroke-width="1"/>
<line x1="417.28" y1="378.2" x2="417.28" y2="381.2" stroke="#3c3c3c" stroke-width="1"/>
<line x1="428.45" y1="378.2" x2="428.45" y2="381.2" stroke="#3c3c3c" stroke-width="1"/>
<line x1="439.62" y1="378.2" x2="439.62" y2="381.2" stroke="#3c3c3c" stroke-width="1"/>
<line x1="450.79" y1="378.2" x2="450.79" y2="381.2" stroke="#3c3c3c" stroke-width="1"/>
<polyline points="372.6,229 383.77,246.2 394.94,237.9 406.11,243.2 417.28,238.6 428.45,257.3 439.62,258.3 450.79,242.4" fill="none" stroke="#628838" stroke-width="1" stroke-linejoin="round"/>
<circle cx="372.6" cy="229" r="1.6" fill="#3f5f1c"/>
<circle cx="383.77" cy="246.2" r="1.6" fill="#3f5f1c"/>
<circle cx="394.94" cy="237.9" r="1.6" fill="#3f5f1c"/>
<circle cx="406.11" cy="243.2" r="1.6" fill="#3f5f1c"/>
<circle cx="417.28" cy="238.6" r="1.6" fill="#3f5f1c"/>
<circle cx="428.45" cy="257.3" r="1.6" fill="#3f5f1c"/>
<circle cx="439.62" cy="258.3" r="1.6" fill="#3f5f1c"/>
<circle cx="450.79" cy="242.4" r="1.6" fill="#3f5f1c"/>
<polyline points="372.6,263.8 383.77,286.2 394.94,286.2 406.11,296.1 417.28,294.2 428.45,314 439.62,316.9 450.79,304.2" fill="none" stroke="#33628f" stroke-width="1" stroke-linejoin="round"/>
<circle cx="372.6" cy="263.8" r="1.6" fill="#0f3560"/>
<circle cx="383.77" cy="286.2" r="1.6" fill="#0f3560"/>
<circle cx="394.94" cy="286.2" r="1.6" fill="#0f3560"/>
<circle cx="406.11" cy="296.1" r="1.6" fill="#0f3560"/>
<circle cx="417.28" cy="294.2" r="1.6" fill="#0f3560"/>
<circle cx="428.45" cy="314" r="1.6" fill="#0f3560"/>
<circle cx="439.62" cy="316.9" r="1.6" fill="#0f3560"/>
<circle cx="450.79" cy="304.2" r="1.6" fill="#0f3560"/>
<polyline points="372.6,298.9 383.77,325.6 394.94,333.8 406.11,348.1 417.28,350.9 428.45,370.2 439.62,375.5 450.79,365.7" fill="none" stroke="#a54b51" stroke-width="1" stroke-linejoin="round"/>
<circle cx="372.6" cy="298.9" r="1.6" fill="#7c1f27"/>
<circle cx="383.77" cy="325.6" r="1.6" fill="#7c1f27"/>
<circle cx="394.94" cy="333.8" r="1.6" fill="#7c1f27"/>
<circle cx="406.11" cy="348.1" r="1.6" fill="#7c1f27"/>
<circle cx="417.28" cy="350.9" r="1.6" fill="#7c1f27"/>
<circle cx="428.45" cy="370.2" r="1.6" fill="#7c1f27"/>
<circle cx="439.62" cy="375.5" r="1.6" fill="#7c1f27"/>
<circle cx="450.79" cy="365.7" r="1.6" fill="#7c1f27"/>
<line x1="473.8" y1="226.2" x2="568.5" y2="226.2" stroke="#e6eff2" stroke-width="1.2"/>
<line x1="473.8" y1="263.6" x2="568.5" y2="263.6" stroke="#e6eff2" stroke-width="1.2"/>
<line x1="473.8" y1="301" x2="568.5" y2="301" stroke="#e6eff2" stroke-width="1.2"/>
<line x1="473.8" y1="338.4" x2="568.5" y2="338.4" stroke="#e6eff2" stroke-width="1.2"/>
<line x1="473.8" y1="375.8" x2="568.5" y2="375.8" stroke="#e6eff2" stroke-width="1.2"/>
<text x="520.15" y="211.8" font-size="10.5" fill="#2e3d6e" text-anchor="middle">PB Balance</text>
<line x1="471.8" y1="216.5" x2="471.8" y2="381.8" stroke="#3c3c3c" stroke-width="1.2"/>
<line x1="471.2" y1="381.2" x2="568.5" y2="381.2" stroke="#3c3c3c" stroke-width="1.2"/>
<line x1="468.8" y1="226.2" x2="471.8" y2="226.2" stroke="#3c3c3c" stroke-width="1"/>
<text transform="translate(464.8,226.2) rotate(-90)" font-size="7.7" fill="#000" stroke="#000" stroke-width="0.3" text-anchor="middle">5</text>
<line x1="468.8" y1="263.6" x2="471.8" y2="263.6" stroke="#3c3c3c" stroke-width="1"/>
<text transform="translate(464.8,263.6) rotate(-90)" font-size="7.7" fill="#000" stroke="#000" stroke-width="0.3" text-anchor="middle">0</text>
<line x1="468.8" y1="301" x2="471.8" y2="301" stroke="#3c3c3c" stroke-width="1"/>
<text transform="translate(464.8,301) rotate(-90)" font-size="7.7" fill="#000" stroke="#000" stroke-width="0.3" text-anchor="middle">-5</text>
<line x1="468.8" y1="338.4" x2="471.8" y2="338.4" stroke="#3c3c3c" stroke-width="1"/>
<text transform="translate(464.8,338.4) rotate(-90)" font-size="7.7" fill="#000" stroke="#000" stroke-width="0.3" text-anchor="middle">-10</text>
<line x1="468.8" y1="375.8" x2="471.8" y2="375.8" stroke="#3c3c3c" stroke-width="1"/>
<text transform="translate(464.8,375.8) rotate(-90)" font-size="7.7" fill="#000" stroke="#000" stroke-width="0.3" text-anchor="middle">-15</text>
<line x1="486.4" y1="378.2" x2="486.4" y2="381.2" stroke="#3c3c3c" stroke-width="1"/>
<line x1="497.66" y1="378.2" x2="497.66" y2="381.2" stroke="#3c3c3c" stroke-width="1"/>
<line x1="508.92" y1="378.2" x2="508.92" y2="381.2" stroke="#3c3c3c" stroke-width="1"/>
<line x1="520.18" y1="378.2" x2="520.18" y2="381.2" stroke="#3c3c3c" stroke-width="1"/>
<line x1="531.44" y1="378.2" x2="531.44" y2="381.2" stroke="#3c3c3c" stroke-width="1"/>
<line x1="542.7" y1="378.2" x2="542.7" y2="381.2" stroke="#3c3c3c" stroke-width="1"/>
<line x1="553.96" y1="378.2" x2="553.96" y2="381.2" stroke="#3c3c3c" stroke-width="1"/>
<line x1="565.22" y1="378.2" x2="565.22" y2="381.2" stroke="#3c3c3c" stroke-width="1"/>
<polyline points="486.4,246.8 497.66,255.6 508.92,245.1 520.18,243.2 531.44,250.7 542.7,220.3 553.96,241.1 565.22,229.9" fill="none" stroke="#628838" stroke-width="1" stroke-linejoin="round"/>
<circle cx="486.4" cy="246.8" r="1.6" fill="#3f5f1c"/>
<circle cx="497.66" cy="255.6" r="1.6" fill="#3f5f1c"/>
<circle cx="508.92" cy="245.1" r="1.6" fill="#3f5f1c"/>
<circle cx="520.18" cy="243.2" r="1.6" fill="#3f5f1c"/>
<circle cx="531.44" cy="250.7" r="1.6" fill="#3f5f1c"/>
<circle cx="542.7" cy="220.3" r="1.6" fill="#3f5f1c"/>
<circle cx="553.96" cy="241.1" r="1.6" fill="#3f5f1c"/>
<circle cx="565.22" cy="229.9" r="1.6" fill="#3f5f1c"/>
<polyline points="486.4,267 497.66,284.9 508.92,285.4 520.18,286.1 531.44,300.4 542.7,278.7 553.96,301.2 565.22,290.8" fill="none" stroke="#33628f" stroke-width="1" stroke-linejoin="round"/>
<circle cx="486.4" cy="267" r="1.6" fill="#0f3560"/>
<circle cx="497.66" cy="284.9" r="1.6" fill="#0f3560"/>
<circle cx="508.92" cy="285.4" r="1.6" fill="#0f3560"/>
<circle cx="520.18" cy="286.1" r="1.6" fill="#0f3560"/>
<circle cx="531.44" cy="300.4" r="1.6" fill="#0f3560"/>
<circle cx="542.7" cy="278.7" r="1.6" fill="#0f3560"/>
<circle cx="553.96" cy="301.2" r="1.6" fill="#0f3560"/>
<circle cx="565.22" cy="290.8" r="1.6" fill="#0f3560"/>
<polyline points="486.4,286.2 497.66,313 508.92,325.6 520.18,329.5 531.44,349.8 542.7,336.8 553.96,360.9 565.22,351.7" fill="none" stroke="#a54b51" stroke-width="1" stroke-linejoin="round"/>
<circle cx="486.4" cy="286.2" r="1.6" fill="#7c1f27"/>
<circle cx="497.66" cy="313" r="1.6" fill="#7c1f27"/>
<circle cx="508.92" cy="325.6" r="1.6" fill="#7c1f27"/>
<circle cx="520.18" cy="329.5" r="1.6" fill="#7c1f27"/>
<circle cx="531.44" cy="349.8" r="1.6" fill="#7c1f27"/>
<circle cx="542.7" cy="336.8" r="1.6" fill="#7c1f27"/>
<circle cx="553.96" cy="360.9" r="1.6" fill="#7c1f27"/>
<circle cx="565.22" cy="351.7" r="1.6" fill="#7c1f27"/>
</svg></body></html>
